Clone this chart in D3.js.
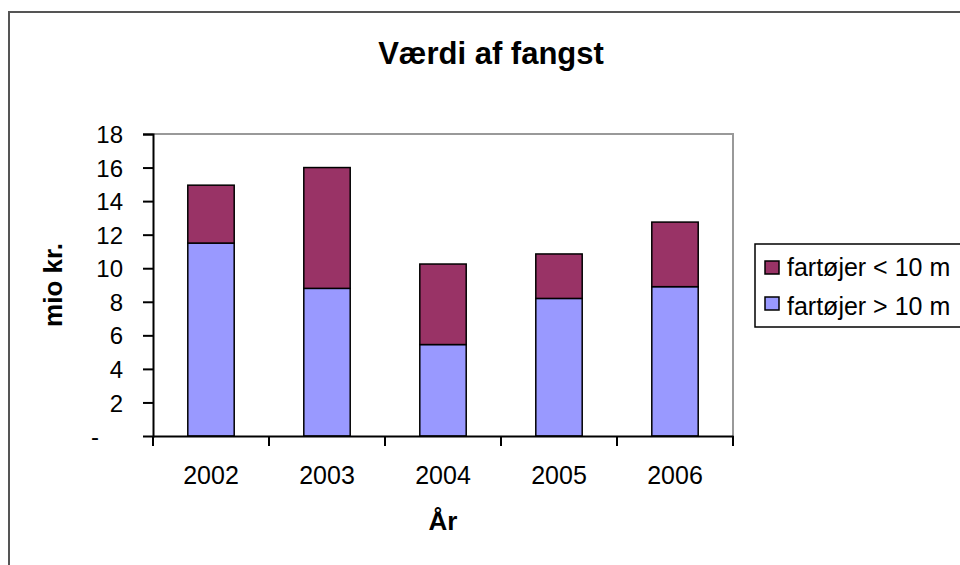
<!DOCTYPE html>
<html>
<head>
<meta charset="utf-8">
<script src="https://cdn.jsdelivr.net/npm/d3@7"></script>
<style>
  body { margin: 0; background: #fff; }
  svg text { font-family: "Liberation Sans", Arial, sans-serif; }
</style>
</head>
<body>
<div id="main"></div>
<script>
// chart values
var years = ["2002", "2003", "2004", "2005", "2006"];
var over10 = [11.5, 8.8, 5.45, 8.2, 8.9];     // fartøjer > 10 m
var under10 = [3.45, 7.2, 4.8, 2.65, 3.85];   // fartøjer < 10 m
var yTicks = [0, 2, 4, 6, 8, 10, 12, 14, 16, 18];
var seriesNames = ["fartøjer < 10 m", "fartøjer > 10 m"];

const w = 960;
const h = 565;
const plotLeft = 153, plotRight = 733, plotTop = 134, plotBottom = 436;

var dataset = years.map(function (y, i) {
    return { year: y, over: over10[i], under: under10[i] };
});

var stack = d3.stack().keys(["over", "under"]);
var layers = stack(dataset);
var colors = { over: "#9999ff", under: "#993366" };

const xScale = d3.scaleBand()
    .domain(years)
    .range([plotLeft, plotRight])
    .paddingInner(0.6)
    .paddingOuter(0.3);

const yScale = d3.scaleLinear()
    .domain([0, 18])
    .range([plotBottom, plotTop]);

const svg = d3.select("#main").append("svg").attr("width", w).attr("height", h);

// outer frame
svg.append("rect")
    .attr("x", 9).attr("y", 12)
    .attr("width", w + 20).attr("height", h + 20)
    .attr("fill", "none")
    .attr("stroke", "#555")
    .attr("stroke-width", 2);

// plot area border (top and right)
svg.append("path")
    .attr("d", "M" + plotLeft + "," + yScale(18) + "H" + plotRight + "V" + plotBottom)
    .attr("fill", "none")
    .attr("stroke", "#999")
    .attr("stroke-width", 2);

// bars
svg.selectAll("g.layer")
    .data(layers)
    .enter()
    .append("g")
    .attr("class", "layer")
    .attr("fill", d => colors[d.key])
    .selectAll("rect")
    .data(d => d)
    .enter()
    .append("rect")
    .attr("x", d => xScale(d.data.year))
    .attr("width", xScale.bandwidth())
    .attr("y", d => yScale(d[1]))
    .attr("height", d => yScale(d[0]) - yScale(d[1]))
    .attr("stroke", "#000")
    .attr("stroke-width", 1.5);

// y axis
const yAxis = d3.axisLeft(yScale)
    .tickValues(yTicks)
    .tickSize(10)
    .tickPadding(20)
    .tickFormat(d => d === 0 ? "-" : d);

var gy = svg.append("g")
    .attr("transform", "translate(" + plotLeft + ",0)")
    .call(yAxis);
gy.select(".domain").attr("stroke", "#000").attr("stroke-width", 2);
gy.selectAll(".tick line").attr("stroke", "#000").attr("stroke-width", 2);
gy.selectAll(".tick text")
    .attr("fill", "#000")
    .style("font-size", "24px")
    .attr("dy", "0.36em");
gy.selectAll(".tick").filter(d => d === 0).select("line").remove();
gy.selectAll(".tick").filter(d => d === 0).select("text")
    .attr("text-anchor", "start")
    .attr("x", -62);

// x axis, ticks on the category boundaries
const xAxis = d3.axisBottom(xScale).tickSize(0).tickPadding(30);
var gx = svg.append("g")
    .attr("transform", "translate(0," + plotBottom + ")")
    .call(xAxis);
gx.select(".domain").attr("stroke", "#000").attr("stroke-width", 2);
gx.selectAll(".tick text")
    .attr("fill", "#000")
    .style("font-size", "25px");

var step = xScale.step();
gx.selectAll("line.boundary")
    .data(d3.range(years.length + 1))
    .enter()
    .append("line")
    .attr("class", "boundary")
    .attr("x1", i => plotLeft + i * step)
    .attr("x2", i => plotLeft + i * step)
    .attr("y1", 0)
    .attr("y2", 10)
    .attr("stroke", "#000")
    .attr("stroke-width", 2);

// title
svg.append("text")
    .attr("x", 491)
    .attr("y", 64)
    .attr("text-anchor", "middle")
    .style("font-size", "31px")
    .style("font-weight", "bold")
    .text("Værdi af fangst");

// axis titles
svg.append("text")
    .attr("transform", "translate(62,285) rotate(-90)")
    .attr("text-anchor", "middle")
    .style("font-size", "26px")
    .style("font-weight", "bold")
    .text("mio kr.");

svg.append("text")
    .attr("x", 443)
    .attr("y", 530)
    .attr("text-anchor", "middle")
    .style("font-size", "26px")
    .style("font-weight", "bold")
    .text("År");

// legend
var legend = svg.append("g").attr("transform", "translate(755,244)");
legend.append("rect")
    .attr("x", 0).attr("y", 0)
    .attr("width", 240).attr("height", 83)
    .attr("fill", "#fff")
    .attr("stroke", "#000")
    .attr("stroke-width", 1.5);

var legendColors = [colors.under, colors.over];
legend.selectAll("rect.sw")
    .data(seriesNames)
    .enter()
    .append("rect")
    .attr("class", "sw")
    .attr("x", 10)
    .attr("y", (d, i) => 17 + i * 36)
    .attr("width", 14)
    .attr("height", 13)
    .attr("fill", (d, i) => legendColors[i])
    .attr("stroke", "#000")
    .attr("stroke-width", 1.5);

legend.selectAll("text")
    .data(seriesNames)
    .enter()
    .append("text")
    .attr("x", 32)
    .attr("y", (d, i) => 32 + i * 39)
    .style("font-size", "25px")
    .text(d => d);
</script>
</body>
</html>
